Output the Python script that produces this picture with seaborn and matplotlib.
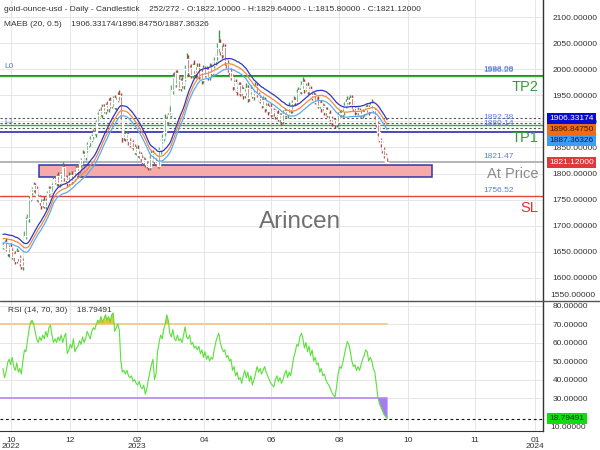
import numpy as np
import pandas as pd
import matplotlib
matplotlib.use("Agg")
import matplotlib.pyplot as plt
import matplotlib.transforms as mtransforms
from matplotlib.patches import Rectangle
from matplotlib.lines import Line2D
import seaborn as sns

sns.set_style("white")
plt.rcParams["font.family"] = ["Liberation Sans", "DejaVu Sans"]

# ---------------- data ----------------
warmup_closes = [1655, 1662, 1668, 1672, 1660, 1650, 1665, 1670, 1662, 1668,
                 1675, 1680, 1690, 1712, 1725, 1700, 1688, 1672, 1660]

closes = [
    1662, 1668, 1655, 1648, 1660, 1652, 1640, 1645, 1632, 1650,
    1638, 1628, 1622, 1632, 1680, 1712, 1715, 1752, 1765, 1770,
    1778, 1770, 1752, 1755, 1745, 1740, 1748, 1738, 1748, 1762,
    1770, 1765, 1778, 1790, 1784, 1795, 1781, 1790, 1799, 1812,
    1793, 1788, 1782, 1795, 1798, 1785, 1792, 1803, 1811, 1805,
    1818, 1826, 1838, 1832, 1846, 1855, 1860, 1865, 1872, 1880,
    1878, 1898, 1912, 1920, 1915, 1928, 1920, 1932, 1925, 1940,
    1930, 1935, 1945, 1928, 1942, 1950, 1948, 1912, 1870, 1875,
    1868, 1875, 1862, 1855, 1860, 1850, 1842, 1848, 1835, 1838,
    1830, 1822, 1826, 1818, 1815, 1812, 1828, 1840, 1835, 1824,
    1820, 1815, 1845, 1862, 1868, 1880, 1905, 1900, 1912, 1918,
    1960, 1985, 1972, 1992, 1980, 1965, 1978, 1970, 1982, 2000,
    2020, 1995, 2002, 1990, 2008, 1998, 1992, 2005, 1988, 1995,
    1980, 2002, 1990, 1998, 1985, 2005, 1993, 2008, 2015, 2025,
    2040, 2050, 2035, 2030, 2042, 2015, 2010, 2000, 1995, 1985,
    1968, 1975, 1962, 1958, 1970, 1955, 1962, 1950, 1956, 1965,
    1945, 1958, 1962, 1948, 1955, 1968, 1952, 1945, 1940, 1932,
    1942, 1925, 1930, 1920, 1928, 1915, 1922, 1918, 1910, 1915,
    1905, 1912, 1900, 1915, 1920, 1912, 1925, 1930, 1922, 1935,
    1942, 1938, 1955, 1960, 1958, 1970, 1975, 1962, 1968, 1958,
    1962, 1950, 1945, 1950, 1938, 1942, 1930, 1935, 1925, 1930,
    1918, 1922, 1912, 1915, 1905, 1898, 1902, 1895, 1898, 1912,
    1916, 1914, 1920, 1930, 1938, 1942, 1940, 1945, 1932, 1925,
    1920, 1918, 1922, 1915, 1912, 1918, 1916, 1924, 1928, 1920,
    1932, 1935, 1922, 1912, 1895, 1880, 1865, 1858, 1845, 1835,
    1822.10, 1821.12]

up_wick = [
    6, 4, 8, 5, 3, 7, 5, 4, 6, 8, 3, 5, 4, 6, 9, 5, 7, 4, 6, 5,
    6, 4, 7, 5, 3, 6, 4, 8, 5, 4, 6, 7, 3, 5, 6, 4, 7, 5, 4, 10,
    6, 5, 4, 7, 3, 6, 5, 4, 8, 5, 6, 4, 7, 5, 3, 6, 5, 7, 4, 6,
    8, 5, 6, 4, 7, 5, 6, 4, 8, 5, 6, 7, 4, 6, 5, 7, 10, 6, 5, 8,
    4, 6, 5, 7, 3, 5, 6, 4, 7, 5, 4, 6, 5, 3, 6, 4, 7, 5, 6, 4,
    5, 7, 6, 4, 8, 5, 9, 6, 5, 12, 10, 8, 9, 7, 6, 8, 5, 7, 6, 8,
    11, 7, 6, 8, 5, 9, 6, 7, 8, 5, 6, 7, 5, 8, 6, 7, 5, 6, 8, 7,
    10, 25, 9, 12, 8, 7, 6, 8, 5, 7, 6, 5, 7, 4, 6, 5, 7, 4, 6, 8,
    5, 6, 7, 4, 6, 8, 5, 4, 6, 5, 7, 4, 5, 6, 4, 7, 5, 4, 6, 5,
    6, 4, 5, 7, 5, 4, 6, 8, 5, 6, 7, 5, 8, 6, 5, 7, 10, 6, 5, 7,
    4, 6, 5, 7, 4, 5, 6, 4, 7, 5, 4, 6, 5, 4, 6, 5, 4, 5, 6, 7,
    5, 6, 4, 7, 5, 6, 4, 6, 5, 7, 4, 5, 6, 4, 5, 6, 4, 7, 5, 4,
    6, 8, 5, 4, 6, 5, 7, 4, 6, 5, 4, 7.54]

down_wick = [
    5, 7, 4, 6, 8, 5, 4, 7, 5, 3, 6, 5, 5, 7, 4, 6, 5, 8, 4, 6,
    5, 7, 4, 6, 5, 8, 4, 5, 6, 4, 7, 5, 3, 6, 4, 7, 5, 6, 4, 5,
    7, 5, 6, 4, 8, 5, 4, 6, 5, 7, 4, 6, 5, 3, 6, 5, 4, 7, 5, 6,
    5, 7, 4, 6, 5, 8, 4, 6, 5, 7, 4, 5, 6, 4, 7, 5, 6, 8, 9, 5,
    6, 4, 7, 5, 6, 4, 5, 7, 4, 6, 5, 4, 6, 5, 4, 5, 6, 4, 5, 7,
    6, 4, 5, 7, 4, 6, 8, 5, 6, 4, 9, 7, 8, 6, 9, 5, 7, 6, 8, 5,
    6, 8, 5, 7, 6, 5, 8, 6, 7, 5, 8, 6, 5, 7, 6, 5, 7, 6, 5, 6,
    7, 6, 8, 9, 7, 6, 8, 5, 7, 6, 8, 5, 6, 7, 5, 6, 4, 7, 5, 6,
    7, 5, 6, 4, 7, 5, 6, 8, 5, 7, 4, 6, 5, 7, 4, 6, 5, 7, 5, 6,
    4, 6, 7, 5, 6, 4, 5, 7, 6, 5, 4, 6, 5, 7, 4, 6, 5, 7, 4, 6,
    5, 6, 4, 7, 5, 6, 4, 5, 7, 4, 6, 5, 4, 6, 5, 7, 4, 7, 5, 6,
    4, 6, 5, 7, 4, 5, 6, 4, 6, 5, 7, 4, 5, 6, 4, 5, 6, 4, 5, 7,
    4, 6, 5, 7, 6, 8, 5, 7, 6, 5, 6, 5.32]

rsi_values = [
    46, 41, 44, 49, 51, 48, 52, 47, 45, 49,
    44, 46, 43, 50, 56, 55, 61, 67, 71, 72,
    70, 66, 62, 60, 63, 61, 64, 62, 66, 63,
    68, 69.5, 64, 60, 62, 60, 63, 61, 64, 60,
    63, 65, 54, 56, 59, 57, 62, 55, 57, 58,
    61, 59, 63, 60, 62, 66, 64, 62, 66, 68,
    67, 70, 72, 71, 74, 71, 73, 75, 72, 74,
    71, 75, 76, 66, 68, 70, 67, 50, 44, 45,
    43, 45, 42, 41, 42, 39, 40, 38, 37, 39,
    36, 35, 37, 32, 35, 40, 44, 48, 51, 40,
    43, 55, 60, 64, 62, 67, 70, 75, 72, 65,
    63, 67, 62, 61, 64, 61, 62, 60, 64, 68.5,
    63, 62, 64, 59, 60, 57, 58, 56, 58, 54,
    56, 52, 55, 51, 53, 50, 52, 51, 56, 60,
    63, 65, 60, 57, 55, 56, 52, 53, 50, 51,
    45, 47, 42, 44, 40, 41, 38, 42, 45, 41,
    44, 39, 42, 37, 40, 43, 47, 44, 46, 43,
    45, 47, 44, 42, 40, 38, 37, 36, 40, 42,
    39, 41, 38, 40, 43, 45, 41, 44, 42, 47,
    52, 55, 59, 58, 63, 65, 62, 57, 60, 55,
    58, 53, 56, 50, 52, 48, 49, 44, 46, 42,
    43, 40, 38, 37, 35, 33, 31.5, 30.7, 36, 43,
    47, 46, 49, 53, 57, 60.5, 59, 55, 50, 47,
    48, 45, 47, 45, 48, 51, 53, 56, 55, 50,
    52, 50, 46, 44, 37, 30.5, 27, 25, 23, 21,
    20, 18.79491]

price_ticks = [1600, 1650, 1700, 1750, 1800, 1850, 1900, 1950, 2000, 2050, 2100]
rsi_ticks = [30, 40, 50, 60, 70, 80]
month_labels = ["10\n2022", "12", "02\n2023", "04", "06", "08", "10", "11", "01\n2024"]
month_pos = [5.2, 43.8, 87.6, 131.4, 175.2, 219.6, 264.7, 308.5, 347.7]

ma_tags = [1906.33174, 1896.84750, 1887.36326]
last_close = 1821.12
last_rsi = 18.79491
level_L0 = [1988.09, 1986.26]
level_L1 = [1892.38, 1880.14]
at_price = 1821.47
stop_loss = 1756.52
zone = (1793.4, 1815.8)
zone_bars = (23.5, 280.2)

title_line = ("gold-ounce-usd - Daily - Candlestick    252/272 - O:1822.10000 - "
              "H:1829.64000 - L:1815.80000 - C:1821.12000")
maeb_line = "MAEB (20, 0.5)    1906.33174/1896.84750/1887.36326"

# ---------------- derived ----------------
c = np.array(closes, dtype=float)
o = np.r_[warmup_closes[-1], c[:-1]]
h = np.maximum(o, c) + np.array(up_wick)
l = np.minimum(o, c) - np.array(down_wick)
n = len(c)
idx = np.arange(n)
ma = pd.Series(np.r_[warmup_closes, c]).rolling(20).mean().values[19:]
df = pd.DataFrame({"bar": idx, "mid": ma, "upper": ma * 1.005, "lower": ma * 0.995,
                   "rsi": rsi_values})

# ---------------- figure ----------------
W, H = 600, 450
fig = plt.figure(figsize=(6, 4.5), dpi=100)
ax = fig.add_axes([0, 1 - 300.7 / H, 543 / W, 300.7 / H])
ax2 = fig.add_axes([0, 1 - 431 / H, 543 / W, (431 - 300.7) / H])

XL = (-1.96, 352.9)
grid_c = "#e6e6e6"
for a in (ax, ax2):
    a.set_xlim(*XL)
    for s in ("left", "top", "bottom"):
        a.spines[s].set_visible(False)
    a.spines["right"].set_color("#333333")
    a.spines["right"].set_linewidth(1.0)
    a.set_xticks(month_pos)
    a.grid(True, color=grid_c, lw=0.7)
    a.set_axisbelow(True)
    a.yaxis.tick_right()
    a.tick_params(axis="y", length=0, pad=7, labelsize=6, labelcolor="#333333")

ax.set_ylim(1556, 2133)
ax.set_yticks(price_ticks)
ax.set_yticklabels([f"{v:.5f}" for v in price_ticks])
ax.tick_params(axis="x", length=0, labelbottom=False)

# candles
cols = np.where(c >= o, "#3a9652", "#bb3538")
ax.vlines(idx, l, h, colors=cols, lw=1.0, zorder=3)
ax.bar(idx, np.maximum(np.abs(c - o), 1.0), bottom=np.minimum(o, c), width=0.95,
       color=cols, zorder=3)

# moving average envelope
sns.lineplot(data=df, x="bar", y="upper", ax=ax, color="#3434c4", lw=0.9, estimator=None, zorder=4)
sns.lineplot(data=df, x="bar", y="mid", ax=ax, color="#f08a3c", lw=0.9, estimator=None, zorder=4)
sns.lineplot(data=df, x="bar", y="lower", ax=ax, color="#5aaaf0", lw=0.9, estimator=None, zorder=4)
ax.set_xlabel("")
ax.set_ylabel("")

# levels
ax.axhline(level_L0[0], color="#2a2ab0", lw=1.2, zorder=2)
ax.axhline(level_L0[1], color="#3aaa3a", lw=1.0, zorder=2)
for v in ma_tags:
    ax.axhline(v, color="#555555", lw=0.8, ls=(0, (2, 2)), zorder=2)
ax.axhline(level_L1[0], color="#3aaa3a", lw=1.0, zorder=2)
ax.axhline(level_L1[1], color="#2a2ab0", lw=1.2, zorder=2)
ax.axhline(at_price, color="#a8a8a8", lw=1.2, zorder=2)
ax.axhline(stop_loss, color="#e8423f", lw=1.0, zorder=2)
ax.add_patch(Rectangle((zone_bars[0], zone[0]), zone_bars[1] - zone_bars[0], zone[1] - zone[0],
                       facecolor="#f6aaaa", edgecolor="#3434b0", lw=1.1, zorder=2.5))

lbl_c = "#5a7ee0"
xl = 313.7
ax.text(xl, 1997.5, f"{level_L0[0]:.2f}", fontsize=6, color=lbl_c)
ax.text(xl, 1994.0, f"{level_L0[1]:.2f}", fontsize=6, color=lbl_c)
ax.text(xl, 1905.5, f"{level_L1[0]:.2f}", fontsize=6, color=lbl_c)
ax.text(xl, 1894.0, f"{level_L1[1]:.2f}", fontsize=6, color=lbl_c)
ax.text(xl, 1829.5, f"{at_price:.2f}", fontsize=6, color=lbl_c)
ax.text(xl, 1764.5, f"{stop_loss:.2f}", fontsize=6, color=lbl_c)
ax.text(1.0, 2002, "L0", fontsize=6, color=lbl_c)
ax.text(1.0, 1897, "L1", fontsize=6, color=lbl_c, alpha=0.8)

bt = mtransforms.blended_transform_factory(ax.transAxes, ax.transData)
ax.text(0.991, 1966, "TP2", transform=bt, ha="right", va="center", fontsize=10.5, color="#3a9a3a")
ax.text(0.991, 1868, "TP1", transform=bt, ha="right", va="center", fontsize=10.5, color="#3a9a3a")
ax.text(0.991, 1799, "At Price", transform=bt, ha="right", va="center", fontsize=10.5, color="#8a8a8a")
ax.text(0.991, 1734, "SL", transform=bt, ha="right", va="center", fontsize=10.5, color="#e03030")
ax.text(300 / 543, (300.7 - 222) / 300.7, "Arincen", transform=ax.transAxes, ha="center",
        va="center", fontsize=17.5, color="#707070")

# right tags
tag_x = 1.0 + 6.5 / 543
tag_step = 21.5
tag_specs = [(ma_tags[0], "#0a0ad0", "white"), (ma_tags[1], "#f26a12", "#3a1a00"),
             (ma_tags[2], "#3d9cf5", "#0a1a40")]
for k, (v, fc, tc) in enumerate(tag_specs):
    ax.text(tag_x, ma_tags[0] - k * tag_step, f"{v:.5f}", transform=bt, fontsize=6, color=tc,
            va="center", ha="left", clip_on=False, zorder=6,
            bbox=dict(boxstyle="square,pad=0.25", fc=fc, ec="none"))
ax.text(tag_x, last_close, f"{last_close:.5f}", transform=bt, fontsize=6, color="white",
        va="center", ha="left", clip_on=False, zorder=6,
        bbox=dict(boxstyle="square,pad=0.25", fc="#e0393b", ec="none"))

# ---------------- RSI panel ----------------
ax2.set_ylim(12.2, 82.6)
ax2.set_yticks(rsi_ticks)
ax2.set_yticklabels([f"{v:.5f}" for v in rsi_ticks])
ax2.spines["bottom"].set_visible(True)
ax2.spines["bottom"].set_color("#333333")
ax2.set_xticklabels(month_labels)
ax2.tick_params(axis="x", length=3, width=0.6, color="#333333", labelsize=6,
                labelcolor="#333333", pad=1)
for t in ax2.get_xticklabels():
    t.set_linespacing(0.95)

r = np.array(rsi_values, dtype=float)
ax2.plot([XL[0], n - 1], [70, 70], color="#f5c98a", lw=1.3, zorder=2)
ax2.plot([XL[0], n - 1], [30, 30], color="#b88ef0", lw=1.3, zorder=2)
ax2.fill_between(idx, r, 70, where=r > 70, interpolate=True, color="#e8c53a", zorder=2.5, lw=0)
ax2.fill_between(idx, r, 30, where=r < 30, interpolate=True, color="#a67cf2", zorder=2.5, lw=0)
ax2.axhline(last_rsi, color="#111111", lw=0.8, ls=(0, (2.5, 2.5)), zorder=2)
sns.lineplot(data=df, x="bar", y="rsi", ax=ax2, color="#5ae03a", lw=0.8, estimator=None, zorder=3)
ax2.set_xlabel("")
ax2.set_ylabel("")
bt2 = mtransforms.blended_transform_factory(ax2.transAxes, ax2.transData)
ax2.text(tag_x, last_rsi, f"{last_rsi:.5f}", transform=bt2, fontsize=6, color="#0a3a0a",
         va="center", ha="left", clip_on=False, zorder=6,
         bbox=dict(boxstyle="square,pad=0.25", fc="#10dd10", ec="none"))

# ---------------- figure-level texts and lines ----------------
fig.add_artist(Line2D([0, 1], [1 - 300.7 / H, 1 - 300.7 / H], color="#555555", lw=1.0))
fig.text(550 / W, 1 - 295.7 / H, "1550.00000", fontsize=6, color="#333333", va="center")
fig.text(550 / W, 1 - 427.5 / H, "10.00000", fontsize=6, color="#333333", va="center")
fig.text(4 / W, 1 - 9.5 / H, title_line, fontsize=6, color="#333333", va="center")
fig.text(4 / W, 1 - 25 / H, maeb_line, fontsize=6, color="#333333", va="center")
fig.text(8 / W, 1 - 311 / H, "RSI (14, 70, 30)    18.79491", fontsize=6, color="#333333",
         va="center")

fig.savefig("out.png", dpi=100)
